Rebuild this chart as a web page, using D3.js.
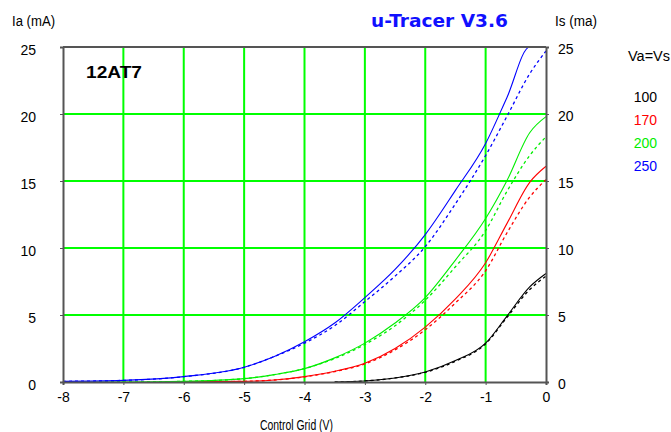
<!DOCTYPE html>
<html>
<head>
<meta charset="utf-8">
<script src="https://cdn.jsdelivr.net/npm/d3@7"></script>
<style>
  body { margin: 0; background: #fff; }
  text { font-family: "Liberation Sans", Arial, sans-serif; }
</style>
</head>
<body>
<div id="chart"></div>
<script>
// plot size
var w = 671;
var h = 432;

// grid voltages (V) the curves were read at
var grid = [-8, -7, -6, -5, -4.5, -4, -3.5, -3, -2.5, -2, -1.5, -1, -0.65, -0.27, 0];

// anode current Ia (solid) and screen current Is (dashed), mA; null = no trace
var ia100 = [null, null, null, null, null, null, 0, 0.08, 0.3, 0.75, 1.6, 2.9, 4.9, 7.1, 8.1];
var is100 = [null, null, null, null, null, null, 0, 0.08, 0.3, 0.72, 1.55, 2.85, 4.8, 6.9, 7.9];
var ia170 = [null, null, 0.01, 0.05, 0.15, 0.4, 0.8, 1.4, 2.5, 4.1, 6.2, 8.9, 11.8, 14.9, 16.1];
var is170 = [null, null, 0, 0.05, 0.15, 0.38, 0.78, 1.35, 2.4, 3.9, 5.9, 8.3, 11.1, 13.8, 15.1];
var ia200 = [0, 0, 0.05, 0.25, 0.55, 1.0, 1.8, 2.9, 4.4, 6.3, 9.1, 12.2, 15.0, 18.6, 19.8];
var is200 = [0, 0, 0.05, 0.25, 0.55, 1.0, 1.75, 2.8, 4.2, 6.1, 8.6, 11.3, 14.2, 16.9, 18.3];
var ia250 = [0.05, 0.12, 0.4, 1.1, 1.9, 3.0, 4.4, 6.3, 8.4, 11.0, 14.3, 17.8, 21.2, 25, 25];
var is250 = [0.05, 0.12, 0.4, 1.1, 1.9, 2.9, 4.2, 6.0, 7.9, 10.1, 13.3, 16.9, 19.8, 23.0, 24.7];

// legend
var voltages = ["100", "170", "200", "250"];
var colours = ["#000000", "#ff0000", "#00ee00", "#0000ff"];

var xTicks = [-8, -7, -6, -5, -4, -3, -2, -1, 0];
var yTicks = [0, 5, 10, 15, 20, 25];

var series = [
    {ia: ia100, is: is100, c: colours[0]},
    {ia: ia170, is: is170, c: colours[1]},
    {ia: ia200, is: is200, c: colours[2]},
    {ia: ia250, is: is250, c: colours[3]}
];

//plot box (don't call these top/left, window.top is taken)
var pLeft = 63, pRight = 546, pTop = 47, pBottom = 382;

var xscale = d3.scaleLinear().domain([-8, 0]).range([pLeft, pRight]);
var yscale = d3.scaleLinear().domain([0, 25]).range([pBottom, pTop]);

var svg = d3.select("#chart")
    .append("svg")
    .attr("width", w)
    .attr("height", h);

//green grid
svg.append("g")
    .selectAll("line")
    .data(xTicks.slice(1, -1))
    .enter()
    .append("line")
    .attr("x1", d => xscale(d)).attr("x2", d => xscale(d))
    .attr("y1", pTop).attr("y2", pBottom)
    .attr("stroke", "#00ff00")
    .attr("stroke-width", 2);

svg.append("g")
    .selectAll("line")
    .data(yTicks.slice(1, -1))
    .enter()
    .append("line")
    .attr("y1", d => yscale(d)).attr("y2", d => yscale(d))
    .attr("x1", pLeft).attr("x2", pRight)
    .attr("stroke", "#00ff00")
    .attr("stroke-width", 2);

//curves
var line = d3.line()
    .defined(d => d[1] != null)
    .x(d => xscale(d[0]))
    .y(d => yscale(d[1]))
    .curve(d3.curveMonotoneX);

series.forEach(function(s)
{
    svg.append("path")
        .attr("d", line(grid.map((g, i) => [g, s.is[i]])))
        .attr("fill", "none")
        .attr("stroke", s.c)
        .attr("stroke-width", 1.3)
        .attr("stroke-dasharray", "3,3");

    svg.append("path")
        .attr("d", line(grid.map((g, i) => [g, s.ia[i]])))
        .attr("fill", "none")
        .attr("stroke", s.c)
        .attr("stroke-width", 1.1);
});

//axes
var axisCol = "#555";

var xaxis = svg.append("g")
    .attr("transform", "translate(0," + pBottom + ")")
    .call(d3.axisBottom(xscale).tickValues(xTicks).tickSize(3).tickPadding(6).tickFormat(d => String(d)));

var yaxisL = svg.append("g")
    .attr("transform", "translate(" + pLeft + ",0)")
    .call(d3.axisLeft(yscale).tickValues(yTicks).tickSize(3).tickPadding(24));

var yaxisR = svg.append("g")
    .attr("transform", "translate(" + pRight + ",0)")
    .call(d3.axisRight(yscale).tickValues(yTicks).tickSize(3).tickPadding(9));

svg.append("line")
    .attr("x1", pLeft).attr("x2", pRight)
    .attr("y1", pTop).attr("y2", pTop)
    .attr("stroke", axisCol).attr("stroke-width", 2);

[xaxis, yaxisL, yaxisR].forEach(function(a)
{
    a.select(".domain").attr("stroke", axisCol).attr("stroke-width", 2);
    a.selectAll(".tick line").attr("stroke", axisCol);
    a.selectAll("text")
        .attr("fill", "#000")
        .style("font-size", "14px")
        .style("font-family", '"Liberation Sans", Arial, sans-serif');
});
yaxisL.selectAll("text").attr("dy", "0.5em");
yaxisR.selectAll("text").attr("dy", "0.45em");
xaxis.selectAll("text").attr("dy", "0.8em");

//titles
svg.append("text")
    .attr("x", 12).attr("y", 26)
    .attr("textLength", 43)
    .attr("lengthAdjust", "spacingAndGlyphs")
    .style("font-size", "14px")
    .text("Ia (mA)");

svg.append("text")
    .attr("x", 555).attr("y", 26)
    .attr("textLength", 42)
    .attr("lengthAdjust", "spacingAndGlyphs")
    .style("font-size", "14px")
    .text("Is (ma)");

svg.append("text")
    .attr("x", 371).attr("y", 27)
    .attr("fill", "#1010ff")
    .attr("textLength", 137)
    .attr("lengthAdjust", "spacingAndGlyphs")
    .style("font-family", '"DejaVu Sans", sans-serif')
    .style("font-weight", "bold")
    .style("font-size", "17px")
    .text("u-Tracer V3.6");

svg.append("text")
    .attr("x", 86).attr("y", 78)
    .attr("textLength", 56)
    .attr("lengthAdjust", "spacingAndGlyphs")
    .style("font-weight", "bold")
    .style("font-size", "17px")
    .text("12AT7");

svg.append("text")
    .attr("x", 260).attr("y", 430)
    .attr("textLength", 73)
    .attr("lengthAdjust", "spacingAndGlyphs")
    .style("font-size", "14px")
    .text("Control Grid (V)");

//legend
svg.append("text")
    .attr("x", 628).attr("y", 61)
    .attr("textLength", 42)
    .attr("lengthAdjust", "spacingAndGlyphs")
    .style("font-size", "14px")
    .text("Va=Vs");

svg.append("g")
    .selectAll("text")
    .data(voltages)
    .enter()
    .append("text")
    .attr("x", 657)
    .attr("y", (d, i) => 102 + i * 23)
    .attr("text-anchor", "end")
    .attr("fill", (d, i) => colours[i])
    .style("font-size", "14px")
    .text(d => d);
</script>
</body>
</html>
